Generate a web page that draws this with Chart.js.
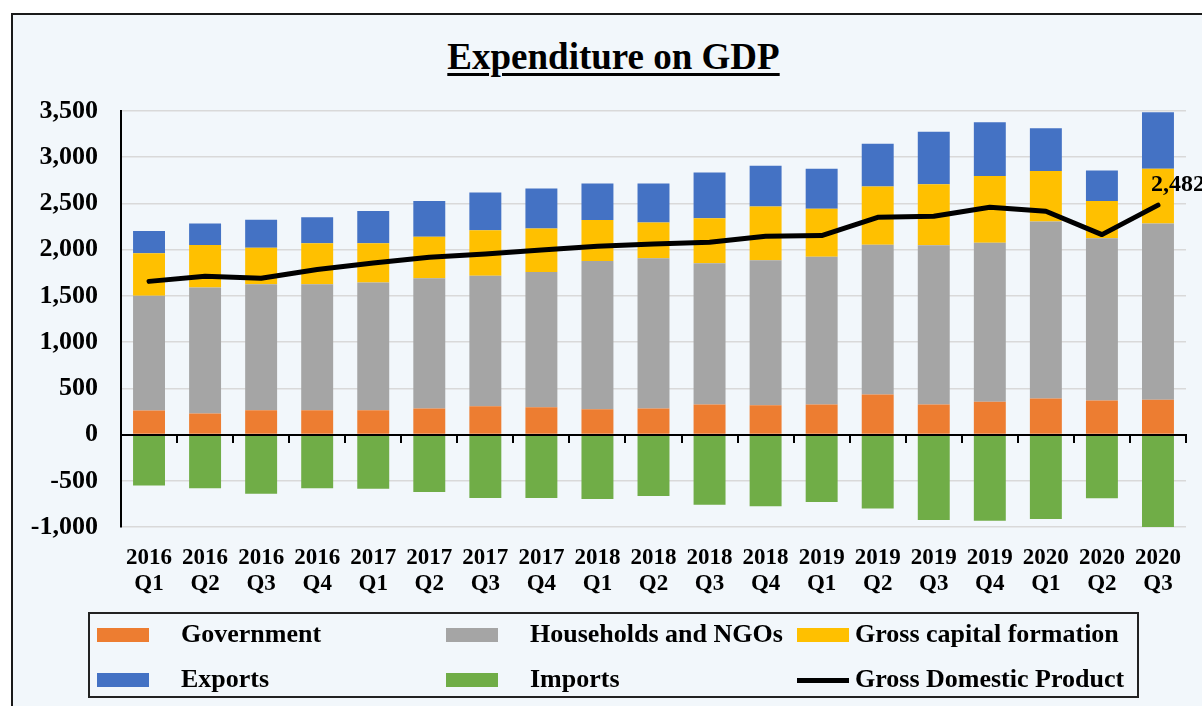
<!DOCTYPE html>
<html>
<head>
<meta charset="utf-8">
<script src="https://cdn.jsdelivr.net/npm/chart.js@4.4.1/dist/chart.umd.min.js"></script>
<style>
  html, body { margin: 0; padding: 0; background: #fff; }
  body { width: 1202px; height: 706px; position: relative; overflow: hidden; font-family: 'Liberation Serif', 'Times New Roman', serif; }
  #frame { position: absolute; left: 11px; top: 13px; width: 1300px; height: 800px; border: 2px solid #1a1a1a; background: #F2F7FB; }
  #title { position: absolute; left: 0; top: 35px; width: 1227px; height: 44px; line-height: 44px; margin: 0;
    text-align: center; font-size: 37px; font-weight: bold; color: #000;
    text-decoration: underline; text-decoration-thickness: 2.5px; text-underline-offset: 4px; }
  #wrap { position: absolute; left: 0; top: 0; width: 1202px; height: 706px; }
  #legendBox { position: absolute; left: 88px; top: 612px; width: 1051px; height: 86px; border: 2px solid #222; box-sizing: border-box; }
  .sw { position: absolute; width: 52px; }
  .lbl { position: absolute; height: 32px; line-height: 32px; font-size: 26px; font-weight: bold; color: #000; white-space: nowrap; }
</style>
</head>
<body>
<div id="frame"></div>
<h1 id="title">Expenditure on GDP</h1>
<div id="wrap"><canvas id="gdpChart" width="1202" height="706"></canvas></div>
<div id="legendBox"></div>
<script>
// quarters on the x axis
const quarters = [
  ['2016', 'Q1'], ['2016', 'Q2'], ['2016', 'Q3'], ['2016', 'Q4'],
  ['2017', 'Q1'], ['2017', 'Q2'], ['2017', 'Q3'], ['2017', 'Q4'],
  ['2018', 'Q1'], ['2018', 'Q2'], ['2018', 'Q3'], ['2018', 'Q4'],
  ['2019', 'Q1'], ['2019', 'Q2'], ['2019', 'Q3'], ['2019', 'Q4'],
  ['2020', 'Q1'], ['2020', 'Q2'], ['2020', 'Q3']
];

// values
const government = [260, 228, 264, 264, 264, 282, 307, 296, 275, 282, 325, 318, 325, 433, 325, 354, 390, 368, 376];
const households = [1242, 1364, 1361, 1361, 1382, 1408, 1412, 1462, 1603, 1624, 1527, 1567, 1599, 1621, 1722, 1722, 1914, 1755, 1906];
const capitalFormation = [458, 459, 397, 444, 423, 451, 490, 470, 444, 387, 488, 581, 520, 629, 661, 722, 548, 404, 592];
const exportsData = [243, 231, 303, 281, 350, 386, 409, 433, 393, 422, 494, 441, 430, 462, 567, 581, 462, 329, 613];
const importsData = [-552, -581, -639, -581, -585, -621, -686, -686, -697, -664, -758, -776, -729, -801, -924, -931, -913, -689, -1014];
const gdp = [1657, 1712, 1690, 1785, 1855, 1917, 1953, 1997, 2036, 2062, 2080, 2144, 2152, 2350, 2361, 2458, 2415, 2163, 2482];

const serif = "'Liberation Serif', 'Times New Roman', serif";

const datasets = [
  { label: 'Government', data: government, backgroundColor: '#ED7D31' },
  { label: 'Households and NGOs', data: households, backgroundColor: '#A5A5A5' },
  { label: 'Gross capital formation', data: capitalFormation, backgroundColor: '#FFC000' },
  { label: 'Exports', data: exportsData, backgroundColor: '#4472C4' },
  { label: 'Imports', data: importsData, backgroundColor: '#70AD47' }
].map(d => Object.assign(d, { type: 'bar', stack: 'gdp', order: 1, barPercentage: 0.57, categoryPercentage: 1 }));

datasets.push({
  label: 'Gross Domestic Product', type: 'line', data: gdp, stack: 'line', order: 0,
  borderColor: '#000', backgroundColor: '#000', borderWidth: 5, pointRadius: 0,
  borderCapStyle: 'round', borderJoinStyle: 'round', tension: 0
});

// value label on the last GDP point
const lastLabel = {
  id: 'lastLabel',
  afterDatasetsDraw(chart) {
    const meta = chart.getDatasetMeta(5);
    const i = gdp.length - 1;
    const pt = meta.data[i];
    const ctx = chart.ctx;
    ctx.save();
    ctx.font = 'bold 24px ' + serif;
    ctx.fillStyle = '#000';
    ctx.textAlign = 'left';
    ctx.textBaseline = 'alphabetic';
    ctx.fillText(gdp[i].toLocaleString('en-US'), pt.x - 7, pt.y - 14);
    ctx.restore();
  }
};

new Chart(document.getElementById('gdpChart'), {
  data: { labels: quarters, datasets },
  options: {
    responsive: false,
    animation: false,
    layout: { padding: { left: 0, right: 16, top: 111, bottom: 91 } },
    plugins: {
      legend: { display: false },
      tooltip: { enabled: false },
      title: { display: false }
    },
    scales: {
      x: {
        stacked: true,
        grid: { display: false, drawTicks: false },
        border: { display: false },
        ticks: { color: '#000', padding: 18, maxRotation: 0, autoSkip: false,
          font: { family: serif, size: 23, weight: 'bold', lineHeight: 1.13 } }
      },
      x0: {
        type: 'category', position: { y: 0 }, offset: true,
        grid: { display: true, drawOnChartArea: false, drawTicks: true, tickLength: 7, color: '#000', lineWidth: 2, offset: true, z: 1 },
        border: { display: true, color: '#000', width: 2, z: 1 },
        ticks: { display: false }
      },
      y: {
        stacked: true, min: -1000, max: 3500,
        afterFit(scale) { scale.width = 121; },
        grid: { color: '#D9D9D9', lineWidth: 1.5, drawTicks: false },
        border: { color: '#000', width: 2, z: 1 },
        ticks: { stepSize: 500, color: '#000', padding: 23,
          font: { family: serif, size: 26, weight: 'bold' },
          callback: v => v.toLocaleString('en-US') }
      }
    }
  },
  plugins: [lastLabel]
});

// legend laid out like the original, two rows of three
const legendCols = [{ sw: 97, tx: 181 }, { sw: 446, tx: 530 }, { sw: 797, tx: 855 }];
const legendRows = [635, 680];
datasets.forEach((d, i) => {
  const col = legendCols[i % 3];
  const yc = legendRows[Math.floor(i / 3)];
  const sw = document.createElement('div');
  sw.className = 'sw';
  const h = d.type === 'line' ? 5 : 14;
  sw.style.left = col.sw + 'px';
  sw.style.top = (yc - h / 2) + 'px';
  sw.style.height = h + 'px';
  sw.style.background = d.type === 'line' ? d.borderColor : d.backgroundColor;
  document.body.appendChild(sw);
  const t = document.createElement('div');
  t.className = 'lbl';
  t.style.left = col.tx + 'px';
  t.style.top = (yc - 17) + 'px';
  t.textContent = d.label;
  document.body.appendChild(t);
});
</script>
</body>
</html>
